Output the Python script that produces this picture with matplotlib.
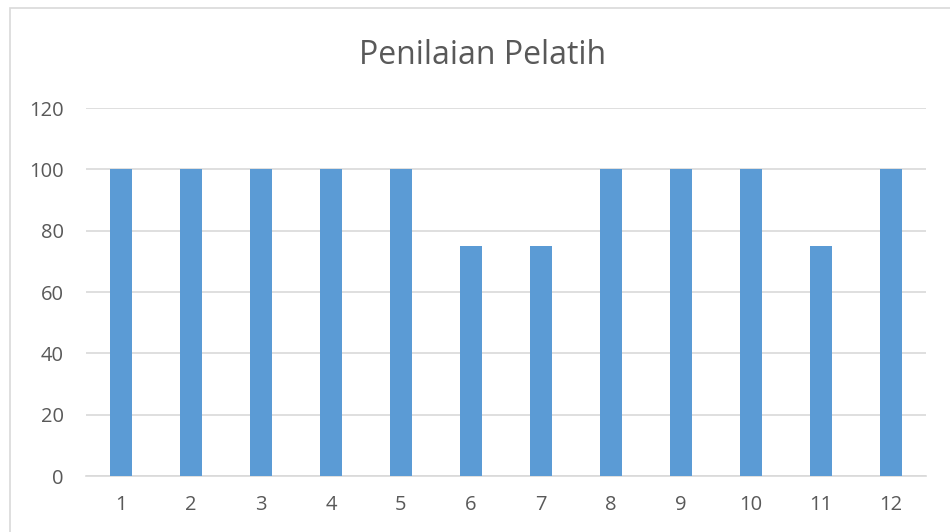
import matplotlib
matplotlib.use("Agg")
import matplotlib.pyplot as plt
from matplotlib.patches import Rectangle

categories = ["1", "2", "3", "4", "5", "6", "7", "8", "9", "10", "11", "12"]
values = [100, 100, 100, 100, 100, 75, 75, 100, 100, 100, 75, 100]
yticks = [0, 20, 40, 60, 80, 100, 120]

plt.rcParams['font.family'] = ['Open Sans', 'DejaVu Sans']

W, H = 950, 532
fig = plt.figure(figsize=(W / 100, H / 100), dpi=100)
fig.patches.append(Rectangle((10 / W, -0.2), 1.2, 1.2 - 8 / H, transform=fig.transFigure,
                             fill=False, edgecolor='#D9D9D9', linewidth=1.2, zorder=0))

left, right, top, bottom = 86, 926, 108, 476
ax = fig.add_axes([left / W, 1 - bottom / H, (right - left) / W, (bottom - top) / H])
x = list(range(len(categories)))
ax.bar(x, values, width=0.32, color='#5B9BD5', zorder=3)
ax.set_xlim(-0.5, len(categories) - 0.5)
ax.set_ylim(0, 120)
ax.set_yticks(yticks)
ax.set_xticks(x)
ax.set_xticklabels(categories)
ax.grid(axis='y', color='#D9D9D9', linewidth=1.2, zorder=0)
for s in ['top', 'right', 'left']:
    ax.spines[s].set_visible(False)
ax.spines['bottom'].set_color('#D9D9D9')
ax.spines['bottom'].set_linewidth(1.2)
ax.tick_params(axis='both', length=0, labelcolor='#595959', labelsize=14.5)
ax.tick_params(axis='x', pad=14)
ax.tick_params(axis='y', pad=16)
fig.text(483 / W, 1 - 55 / H, "Penilaian Pelatih", ha='center', va='center',
         fontsize=23, color='#595959')
fig.savefig("out.png", dpi=100)
